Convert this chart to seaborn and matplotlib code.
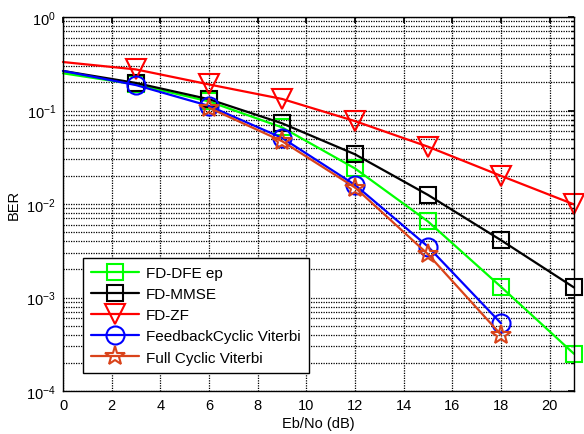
import matplotlib
matplotlib.use("Agg")
import matplotlib.pyplot as plt
import seaborn as sns
import numpy as np
import pandas as pd
from matplotlib.ticker import LogLocator

# ---- data ----
x_all = [0, 3, 6, 9, 12, 15, 18, 21]
dfe_ep = [0.25, 0.19, 0.125, 0.066, 0.024, 0.0065, 0.0013, 0.00025]
mmse = [0.265, 0.197, 0.132, 0.073, 0.034, 0.0125, 0.0041, 0.00128]
zf = [0.33, 0.275, 0.19, 0.133, 0.077, 0.041, 0.020, 0.0099]
x_fb = [0, 3, 6, 9, 12, 15, 18]
fb_viterbi = [0.265, 0.187, 0.112, 0.051, 0.016, 0.0035, 0.00053]
x_full = [6, 9, 12, 15, 18]
full_viterbi = [0.107, 0.047, 0.015, 0.0029, 0.00040]

labels = ["FD-DFE ep", "FD-MMSE", "FD-ZF", "FeedbackCyclic Viterbi", "Full Cyclic Viterbi"]
xticks = list(range(0, 21, 2))

sns.set_theme(style="white", rc={
    "axes.edgecolor": "black",
    "axes.linewidth": 1.0,
    "xtick.direction": "in",
    "ytick.direction": "in",
    "xtick.color": "black",
    "ytick.color": "black",
    "text.color": "black",
    "axes.labelcolor": "black",
})
plt.rcParams["font.family"] = ["Liberation Sans", "DejaVu Sans"]

fig = plt.figure(figsize=(5.84, 4.35), dpi=100)
ax = fig.add_axes([63/584, 1 - 392/435, (574-63)/584, (392-18)/435])

series = [
    (x_all, dfe_ep, labels[0], "#00FF00", "s", 12, slice(1, None)),
    (x_all, mmse, labels[1], "black", "s", 12, slice(1, None)),
    (x_all, zf, labels[2], "#FF0000", "v", 14, slice(1, None)),
    (x_fb, fb_viterbi, labels[3], "#0000FF", "o", 13, slice(1, None)),
    (x_full, full_viterbi, labels[4], "#D9431A", "*", 15, None),
]

for xs, ys, lab, col, mk, ms, me in series:
    df = pd.DataFrame({"x": xs, "y": ys})
    sns.lineplot(data=df, x="x", y="y", ax=ax, color=col, marker=mk,
                 markersize=ms, markerfacecolor="none", markeredgecolor=col,
                 markeredgewidth=1.5, linewidth=1.6, label=lab,
                 markevery=me, clip_on=False, estimator=None, sort=False)

ax.set_yscale("log")
ax.set_xlim(0, 21)
ax.set_ylim(1e-4, 1)
ax.set_xticks(xticks)
ax.yaxis.set_major_locator(LogLocator(base=10, numticks=10))
ax.yaxis.set_minor_locator(LogLocator(base=10, subs=np.arange(2, 10), numticks=10))
ax.grid(True, which="major", color="black", linestyle=(0, (1, 1)), linewidth=0.9)
ax.grid(True, which="minor", axis="y", color="black", linestyle=(0, (1, 1)), linewidth=0.9)
ax.tick_params(which="both", top=True, right=True, labelsize=10.5, pad=5)
ax.tick_params(which="major", length=4)
ax.tick_params(which="minor", length=2.5)
ax.set_xlabel("Eb/No (dB)", fontsize=10.5, labelpad=3)
ax.set_ylabel("BER", fontsize=10.5, labelpad=4)

leg = ax.legend(loc="lower left", bbox_to_anchor=(0.039, 0.048), borderaxespad=0,
                fontsize=11, frameon=True, fancybox=False, framealpha=1,
                edgecolor="black", handlelength=3.1, labelspacing=0.47,
                borderpad=0.55, handletextpad=0.45)
leg.get_frame().set_linewidth(1.0)

fig.savefig("out.png", dpi=100)
